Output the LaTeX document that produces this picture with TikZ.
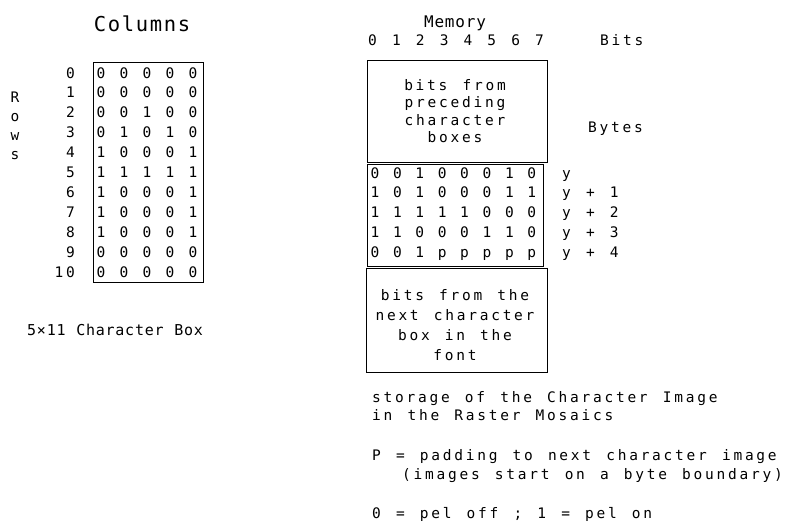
\documentclass[tikz,border=0pt]{standalone}
\usepackage{fontspec}
\newfontfamily\monoA[LetterSpace=19,WordSpace=1.317]{DejaVu Sans Mono}
\newfontfamily\monoT[LetterSpace=8]{DejaVu Sans Mono}
\newfontfamily\monoS[LetterSpace=5,WordSpace=1.1]{DejaVu Sans Mono}
\tikzset{
  txt/.style={inner sep=0pt, font=\monoA\fontsize{14.5}{16}\selectfont},
  dig/.style={txt, anchor=base},
  box/.style={draw, line width=1pt, inner sep=0pt},
}
\begin{document}
\begin{tikzpicture}[x=1pt,y=-1pt]
\useasboundingbox (0,0) rectangle (791,523);
% ---------- left: character box ----------
\node[inner sep=0pt, anchor=base, font=\monoT\fontsize{20.5}{22}\selectfont] (cols) at (142,31) {Columns};
\node[box, minimum width=110pt, minimum height=220pt] (lbox) at (148,172) {};
\foreach \r [count=\i from 0] in {{0,0,0,0,0},{0,0,0,0,0},{0,0,1,0,0},{0,1,0,1,0},{1,0,0,0,1},{1,1,1,1,1},{1,0,0,0,1},{1,0,0,0,1},{1,0,0,0,1},{0,0,0,0,0},{0,0,0,0,0}}{
  \node[txt, anchor=base east] (rl\i) at (75,{78+19.9*\i}) {\i};
  \foreach \d [count=\j from 0] in \r {
    \node[dig] (L\i-\j) at ({101+23*\j},{78+19.9*\i}) {\d};
  }
}
\foreach \c [count=\k from 0] in {R,o,w,s}{
  \node[dig] (rows\k) at (15,{102+19*\k}) {\c};
}
\node[inner sep=0pt, anchor=base west, font=\monoS\fontsize{15}{17}\selectfont] (cap) at (27,335) {5×11 Character Box};
% ---------- right: memory ----------
\node[inner sep=0pt, anchor=base, font=\monoS\fontsize{16}{18}\selectfont] (mem) at (455,27) {Memory};
\node[txt, anchor=base west] (bitnum) at (368,45) {0 1 2 3 4 5 6 7};
\node[txt, anchor=base west] (bits) at (600,45) {Bits};
\node[box, minimum width=180pt, minimum height=102pt] (ubox) at (457,111) {};
\node[txt, anchor=base] (u1) at (455,90) {bits from};
\node[txt, anchor=base] (u2) at (455,107.5) {preceding};
\node[txt, anchor=base] (u3) at (455,125) {character};
\node[txt, anchor=base] (u4) at (455,142.5) {boxes};
\node[txt, anchor=base west] (bytes) at (588,132) {Bytes};
\node[box, minimum width=176pt, minimum height=102pt] (dbox) at (455,215) {};
\foreach \r [count=\i from 0] in {{0,0,1,0,0,0,1,0},{1,0,1,0,0,0,1,1},{1,1,1,1,1,0,0,0},{1,1,0,0,0,1,1,0},{0,0,1,p,p,p,p,p}}{
  \foreach \d [count=\j from 0] in \r {
    \node[dig] (D\i-\j) at ({375+22.4*\j},{178+19.75*\i}) {\d};
  }
}
\node[txt, anchor=base west] (y0) at (562,178) {y};
\foreach \k in {1,2,3,4}{
  \node[txt, anchor=base west] (y\k) at (562,{178+19.75*\k}) {y + \k};
}
\node[box, minimum width=181pt, minimum height=104pt] (lobox) at (456.5,320) {};
\node[txt, anchor=base] (n1) at (455,300) {bits from the};
\node[txt, anchor=base] (n2) at (455,320) {next character};
\node[txt, anchor=base] (n3) at (455,340) {box in the};
\node[txt, anchor=base] (n4) at (455,360) {font};
% ---------- notes ----------
\node[txt, anchor=base west] (s1) at (372,402) {storage of the Character Image};
\node[txt, anchor=base west] (s2) at (372,420) {in the Raster Mosaics};
\node[txt, anchor=base west] (p1) at (372,460) {P = padding to next character image};
\node[txt, anchor=base west] (p2) at (402,479) {(images start on a byte boundary)};
\node[txt, anchor=base west] (o1) at (372,518) {0 = pel off ; 1 = pel on};
\end{tikzpicture}
\end{document}
